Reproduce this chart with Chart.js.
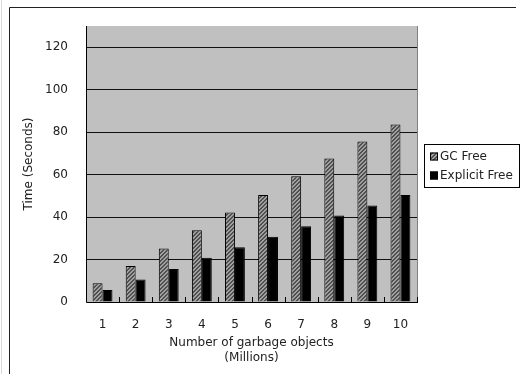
<!DOCTYPE html>
<html lang="en">
<head>
    <meta charset="UTF-8">
    <title>GC Free vs Explicit Free</title>
    <script src="https://cdn.jsdelivr.net/npm/chart.js"></script>
    <style>
        html, body { margin: 0; padding: 0; background: #fff; }
        #wrap { width: 525px; height: 374px; position: relative; }
    </style>
</head>
<body>
    <div id="wrap">
        <canvas id="gcChart"></canvas>
    </div>

    <script>
        // data
        const objects = ['1', '2', '3', '4', '5', '6', '7', '8', '9', '10'];
        const gcFree = [8.8, 16.9, 25.2, 33.8, 42.1, 50.4, 59.2, 67.6, 75.6, 83.6];
        const explicitFree = [5.6, 10.6, 15.5, 20.8, 25.8, 30.7, 35.7, 40.7, 45.5, 50.4];
        const yTicks = [0, 20, 40, 60, 80, 100, 120];
        const seriesNames = ['GC Free', 'Explicit Free'];

        const FONT = 'DejaVu Sans';
        const TEXT = '#222';

        // hatched fill for the GC Free bars
        function makeHatch() {
            const c = document.createElement('canvas');
            c.width = 4; c.height = 4;
            const g = c.getContext('2d');
            g.fillStyle = '#a0a0a0';
            g.fillRect(0, 0, 4, 4);
            g.fillStyle = '#505050';
            for (let y = 0; y < 4; y++) {
                for (let x = 0; x < 4; x++) {
                    if ((x + y) % 4 < 2) g.fillRect(x, y, 1, 1);
                }
            }
            return g.createPattern(c, 'repeat');
        }

        const ctx = document.getElementById('gcChart').getContext('2d');
        const hatch = makeHatch();

        // frame, gray plot area, axis lines and the legend box
        const decor = {
            id: 'decor',
            beforeDraw(chart) {
                const c = chart.ctx;
                const a = chart.chartArea;
                c.save();
                c.fillStyle = '#fff';
                c.fillRect(0, 0, chart.width, chart.height);
                // faint page edge
                c.strokeStyle = '#d8d8d8';
                c.lineWidth = 1;
                c.beginPath();
                c.moveTo(1.5, 0); c.lineTo(1.5, chart.height);
                c.stroke();
                // outer chart frame (only top and left show)
                c.strokeStyle = '#222';
                c.beginPath();
                c.moveTo(9.5, chart.height); c.lineTo(9.5, 7.5); c.lineTo(516, 7.5);
                c.stroke();
                // plot area
                c.fillStyle = '#c0c0c0';
                c.fillRect(a.left, a.top, a.right - a.left, a.bottom - a.top);
                c.restore();
            },
            afterDraw(chart) {
                const c = chart.ctx;
                const a = chart.chartArea;
                const x = chart.scales.x;
                c.save();
                // right edge of plot area
                c.strokeStyle = '#808080';
                c.lineWidth = 1;
                c.beginPath();
                c.moveTo(Math.round(a.right) + 0.5, a.top);
                c.lineTo(Math.round(a.right) + 0.5, a.bottom);
                c.stroke();
                // axis lines
                c.strokeStyle = '#000';
                c.beginPath();
                c.moveTo(Math.round(a.left) + 0.5, a.top);
                c.lineTo(Math.round(a.left) + 0.5, Math.round(a.bottom) + 0.5);
                c.lineTo(a.right + 1, Math.round(a.bottom) + 0.5);
                c.stroke();
                // inside tick marks between categories
                const step = (a.right - a.left) / objects.length;
                c.beginPath();
                for (let i = 1; i <= objects.length; i++) {
                    const px = Math.round(x.getPixelForValue(i - 1) + step / 2) + 0.5;
                    c.moveTo(px, a.bottom - 5);
                    c.lineTo(px, a.bottom);
                }
                c.stroke();

                // legend
                const lx = 424, ly = 144, lw = 95, lh = 43;
                c.fillStyle = '#fff';
                c.fillRect(lx, ly, lw, lh);
                c.strokeStyle = '#000';
                c.strokeRect(lx + 0.5, ly + 0.5, lw, lh);
                c.font = '12px "' + FONT + '"';
                c.textBaseline = 'middle';
                chart.data.datasets.forEach((ds, i) => {
                    const cy = ly + 12.5 + i * 19;
                    c.fillStyle = ds.backgroundColor;
                    c.fillRect(lx + 6, cy - 4, 8, 8);
                    c.strokeStyle = '#000';
                    c.strokeRect(lx + 6.5, cy - 3.5, 7, 7);
                    c.fillStyle = TEXT;
                    c.fillText(ds.label, lx + 16, cy + 0.5);
                });
                c.restore();
            }
        };

        new Chart(ctx, {
            type: 'bar',
            data: {
                labels: objects,
                datasets: [
                    {
                        label: seriesNames[0],
                        data: gcFree,
                        backgroundColor: hatch,
                        borderColor: '#000',
                        borderWidth: 1,
                        borderSkipped: 'start'
                    },
                    {
                        label: seriesNames[1],
                        data: explicitFree,
                        backgroundColor: '#000',
                        borderColor: '#000',
                        borderWidth: 1,
                        borderSkipped: 'start'
                    }
                ]
            },
            options: {
                responsive: true,
                maintainAspectRatio: false,
                animation: false,
                layout: {
                    padding: { left: 9, right: 108, top: 26, bottom: 0 }
                },
                datasets: {
                    bar: { categoryPercentage: 0.6, barPercentage: 1.0 }
                },
                plugins: {
                    legend: { display: false },
                    tooltip: { enabled: false }
                },
                scales: {
                    x: {
                        afterFit(scale) { scale.height = 72; },
                        grid: { display: false },
                        border: { display: false },
                        ticks: {
                            color: TEXT,
                            padding: 8,
                            font: { family: FONT, size: 12 }
                        },
                        title: {
                            display: true,
                            text: ['Number of garbage objects', '(Millions)'],
                            color: TEXT,
                            padding: { top: 0, bottom: 9 },
                            font: { family: FONT, size: 12, lineHeight: 1.25 }
                        }
                    },
                    y: {
                        min: 0,
                        max: 130,
                        afterFit(scale) { scale.width = 77; },
                        afterBuildTicks(scale) {
                            scale.ticks = yTicks.map(v => ({ value: v }));
                        },
                        grid: {
                            color: (c) => c.tick && c.tick.value === 0 ? 'rgba(0,0,0,0)' : '#111',
                            lineWidth: 1,
                            drawTicks: false
                        },
                        border: { display: false },
                        ticks: {
                            color: TEXT,
                            padding: 18,
                            font: { family: FONT, size: 12 }
                        },
                        title: {
                            display: true,
                            text: 'Time (Seconds)',
                            color: TEXT,
                            padding: { top: 12, bottom: 0 },
                            font: { family: FONT, size: 12, lineHeight: 1.25 }
                        }
                    }
                }
            },
            plugins: [decor]
        });
    </script>
</body>
</html>
